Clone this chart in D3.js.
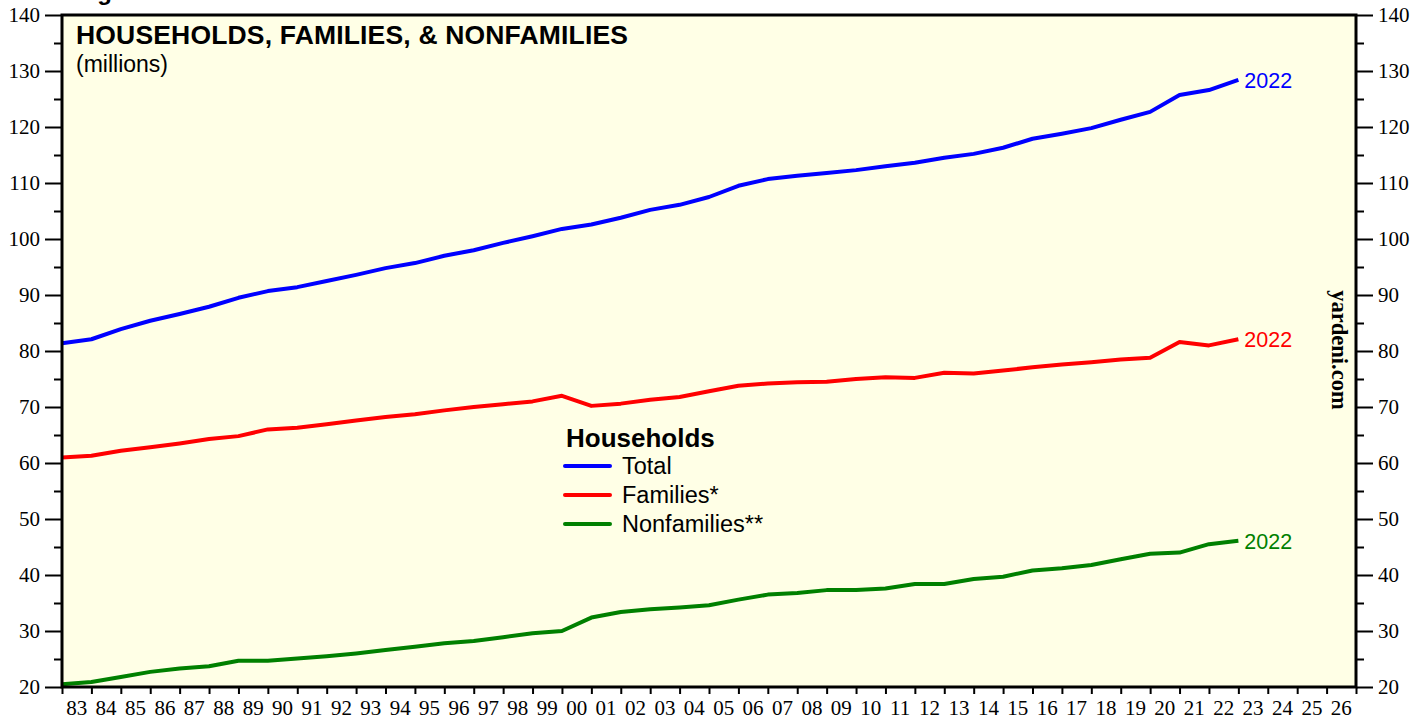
<!DOCTYPE html>
<html>
<head>
<meta charset="utf-8">
<script src="https://cdn.jsdelivr.net/npm/d3@7"></script>
<style>
  body { margin: 0; background: #fff; }
  svg { display: block; }
</style>
</head>
<body>
<div id="chart"></div>
<script>
// annual data, 1982..2022 (millions)
const years = d3.range(1982, 2023);
const total = [81.4, 82.1, 83.9, 85.4, 86.6, 87.9, 89.5, 90.7, 91.4, 92.5,
  93.6, 94.8, 95.7, 97.0, 98.0, 99.3, 100.5, 101.8, 102.6, 103.8,
  105.2, 106.1, 107.5, 109.5, 110.7, 111.3, 111.8, 112.3, 113.0, 113.6,
  114.5, 115.2, 116.3, 117.9, 118.8, 119.8, 121.3, 122.7, 125.7, 126.6, 128.4];
const families = [61.0, 61.3, 62.2, 62.8, 63.5, 64.3, 64.8, 66.0, 66.3, 66.9,
  67.6, 68.2, 68.7, 69.4, 70.0, 70.5, 71.0, 72.0, 70.2, 70.6,
  71.3, 71.8, 72.8, 73.8, 74.2, 74.4, 74.5, 75.0, 75.3, 75.2,
  76.1, 76.0, 76.5, 77.1, 77.6, 78.0, 78.5, 78.8, 81.6, 81.0, 82.1];
const nonfamilies = [20.5, 20.9, 21.8, 22.7, 23.3, 23.7, 24.7, 24.7, 25.1, 25.5,
  26.0, 26.6, 27.2, 27.8, 28.2, 28.9, 29.6, 30.0, 32.4, 33.4,
  33.9, 34.2, 34.6, 35.6, 36.5, 36.8, 37.3, 37.3, 37.6, 38.4,
  38.4, 39.3, 39.7, 40.8, 41.2, 41.8, 42.8, 43.8, 44.0, 45.5, 46.1];
const seriesNames = ['Total', 'Families*', 'Nonfamilies**'];
const seriesColors = ['#0000ff', '#ff0000', '#008000'];
const xLabelYears = d3.range(1983, 2027);
const yTicks = d3.range(20, 141, 10);

const w = 1427;
const h = 721;
const margin = { top: 15, right: 71, bottom: 34, left: 62 };

const svg = d3.select('#chart')
  .append('svg')
  .attr('width', w)
  .attr('height', h);

const xScale = d3.scaleLinear()
  .domain([1983, 2027])
  .range([margin.left, w - margin.right]);

const yScale = d3.scaleLinear()
  .domain([20, 140])
  .range([h - margin.bottom, margin.top]);

const serif = 'Times New Roman, Liberation Serif, serif';
const sans = 'Arial, Liberation Sans, sans-serif';

// background
svg.append('rect')
  .attr('x', margin.left)
  .attr('y', margin.top)
  .attr('width', w - margin.left - margin.right)
  .attr('height', h - margin.top - margin.bottom)
  .attr('fill', '#ffffe6');

// figure label, cut off at the very top like the original
svg.append('text')
  .attr('x', 76).attr('y', 0)
  .attr('font-family', sans)
  .attr('font-weight', 'bold')
  .attr('font-size', 24)
  .text('Figure 1.');

// y axes
const minor = d3.range(25, 140, 10);
function styleAxis(g) {
  g.select('.domain').remove();
  g.selectAll('line').attr('stroke', '#000').attr('stroke-width', 2);
  g.selectAll('text').attr('font-family', serif).attr('font-size', 21).attr('fill', '#000');
}

svg.append('g')
  .attr('transform', 'translate(' + margin.left + ',0)')
  .call(d3.axisLeft(yScale).tickValues(yTicks).tickSize(17).tickPadding(5))
  .call(styleAxis);
svg.append('g')
  .attr('transform', 'translate(' + margin.left + ',0)')
  .call(d3.axisLeft(yScale).tickValues(minor).tickSize(8).tickFormat(''))
  .call(styleAxis);

svg.append('g')
  .attr('transform', 'translate(' + (w - margin.right) + ',0)')
  .call(d3.axisRight(yScale).tickValues(yTicks).tickSize(17).tickPadding(5))
  .call(styleAxis);
svg.append('g')
  .attr('transform', 'translate(' + (w - margin.right) + ',0)')
  .call(d3.axisRight(yScale).tickValues(minor).tickSize(8).tickFormat(''))
  .call(styleAxis);

// x axis: ticks at year boundaries, labels in between
svg.append('g')
  .attr('transform', 'translate(0,' + (h - margin.bottom) + ')')
  .call(d3.axisBottom(xScale).tickValues(d3.range(1983, 2028)).tickSize(7).tickFormat(''))
  .call(styleAxis);

svg.append('g')
  .selectAll('text')
  .data(xLabelYears)
  .enter()
  .append('text')
  .attr('x', d => xScale(d + 0.5))
  .attr('y', 715)
  .attr('text-anchor', 'middle')
  .attr('font-family', serif)
  .attr('font-size', 21)
  .text(d => String(d % 100).padStart(2, '0'));

// lines, data for year Y plotted at year end
const allSeries = [total, families, nonfamilies];
const line = d3.line()
  .x((d, i) => xScale(years[i] + 1))
  .y(d => yScale(d));

allSeries.forEach((s, k) => {
  svg.append('path')
    .datum(s)
    .attr('d', line)
    .attr('fill', 'none')
    .attr('stroke', seriesColors[k])
    .attr('stroke-width', 4)
    .attr('stroke-linejoin', 'round');

  svg.append('text')
    .attr('x', xScale(years[years.length - 1] + 1) + 6)
    .attr('y', yScale(s[s.length - 1]) + 8)
    .attr('font-family', sans)
    .attr('font-size', 21.5)
    .attr('fill', seriesColors[k])
    .text(years[years.length - 1]);
});

// frame
svg.append('rect')
  .attr('x', margin.left)
  .attr('y', margin.top)
  .attr('width', w - margin.left - margin.right)
  .attr('height', h - margin.top - margin.bottom)
  .attr('fill', 'none')
  .attr('stroke', '#000')
  .attr('stroke-width', 3);

// titles
svg.append('text')
  .attr('x', 76).attr('y', 44)
  .attr('font-family', sans)
  .attr('font-weight', 'bold')
  .attr('font-size', 26.5)
  .attr('textLength', 552)
  .text('HOUSEHOLDS, FAMILIES, & NONFAMILIES');
svg.append('text')
  .attr('x', 76).attr('y', 72)
  .attr('font-family', sans)
  .attr('font-size', 23)
  .text('(millions)');

// legend
const legend = svg.append('g').attr('transform', 'translate(565,0)');
legend.append('text')
  .attr('x', 1).attr('y', 447)
  .attr('font-family', sans)
  .attr('font-weight', 'bold')
  .attr('font-size', 26)
  .text('Households');
seriesNames.forEach((name, k) => {
  const y = 466 + k * 29;
  legend.append('line')
    .attr('x1', 0).attr('x2', 45)
    .attr('y1', y).attr('y2', y)
    .attr('stroke', seriesColors[k])
    .attr('stroke-width', 4)
    .attr('stroke-linecap', 'round');
  legend.append('text')
    .attr('x', 57).attr('y', y + 8)
    .attr('font-family', sans)
    .attr('font-size', 23.5)
    .text(name);
});

// watermark
svg.append('text')
  .attr('transform', 'translate(1332,350) rotate(90)')
  .attr('text-anchor', 'middle')
  .attr('font-family', serif)
  .attr('font-weight', 'bold')
  .attr('font-size', 22.5)
  .text('yardeni.com');
</script>
</body>
</html>
